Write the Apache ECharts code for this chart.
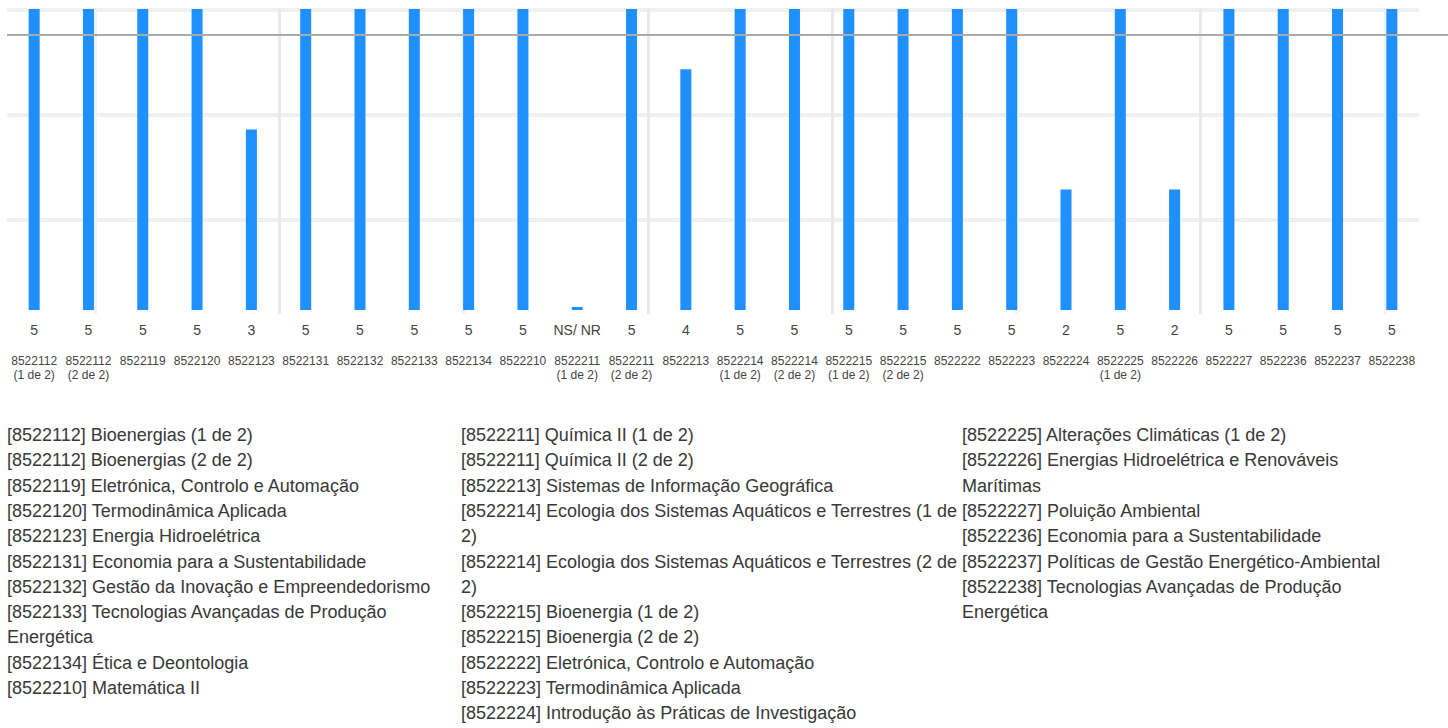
<!DOCTYPE html>
<html>
<head>
<meta charset="utf-8">
<title>Avaliação por unidade curricular</title>
<script src="https://cdn.jsdelivr.net/npm/echarts@6/dist/echarts.min.js"></script>
<style>
  html, body { margin: 0; padding: 0; background: #ffffff; }
  #chart { width: 1448px; height: 728px; }
</style>
</head>
<body>
<div id="chart"></div>
<script>
// Unit codes shown under each bar
const categories = [
  '8522112\n(1 de 2)', '8522112\n(2 de 2)', '8522119', '8522120', '8522123',
  '8522131', '8522132', '8522133', '8522134', '8522210',
  '8522211\n(1 de 2)', '8522211\n(2 de 2)', '8522213', '8522214\n(1 de 2)', '8522214\n(2 de 2)',
  '8522215\n(1 de 2)', '8522215\n(2 de 2)', '8522222', '8522223', '8522224',
  '8522225\n(1 de 2)', '8522226', '8522227', '8522236', '8522237', '8522238'
];

// Score per unit (NS/ NR drawn as a near-zero stub)
const values = [
  5, 5, 5, 5, 3,
  5, 5, 5, 5, 5,
  0.05, 5, 4, 5, 5,
  5, 5, 5, 5, 2,
  5, 2, 5, 5, 5, 5
];

// Text printed under each bar
const valueLabels = [
  '5', '5', '5', '5', '3',
  '5', '5', '5', '5', '5',
  'NS/ NR', '5', '4', '5', '5',
  '5', '5', '5', '5', '2',
  '5', '2', '5', '5', '5', '5'
];

// Reference level drawn across the chart
const referenceValue = 4.57;

// Unit names, three columns
const namesCol1 = [
  '[8522112] Bioenergias (1 de 2)',
  '[8522112] Bioenergias (2 de 2)',
  '[8522119] Eletrónica, Controlo e Automação',
  '[8522120] Termodinâmica Aplicada',
  '[8522123] Energia Hidroelétrica',
  '[8522131] Economia para a Sustentabilidade',
  '[8522132] Gestão da Inovação e Empreendedorismo',
  '[8522133] Tecnologias Avançadas de Produção',
  'Energética',
  '[8522134] Ética e Deontologia',
  '[8522210] Matemática II'
];
const namesCol2 = [
  '[8522211] Química II (1 de 2)',
  '[8522211] Química II (2 de 2)',
  '[8522213] Sistemas de Informação Geográfica',
  '[8522214] Ecologia dos Sistemas Aquáticos e Terrestres (1 de',
  '2)',
  '[8522214] Ecologia dos Sistemas Aquáticos e Terrestres (2 de',
  '2)',
  '[8522215] Bioenergia (1 de 2)',
  '[8522215] Bioenergia (2 de 2)',
  '[8522222] Eletrónica, Controlo e Automação',
  '[8522223] Termodinâmica Aplicada',
  '[8522224] Introdução às Práticas de Investigação'
];
const namesCol3 = [
  '[8522225] Alterações Climáticas (1 de 2)',
  '[8522226] Energias Hidroelétrica e Renováveis',
  'Marítimas',
  '[8522227] Poluição Ambiental',
  '[8522236] Economia para a Sustentabilidade',
  '[8522237] Políticas de Gestão Energético-Ambiental',
  '[8522238] Tecnologias Avançadas de Produção',
  'Energética'
];

const FONT = '"Liberation Sans", Arial, Helvetica, sans-serif';
const chart = echarts.init(document.getElementById('chart'), null, { renderer: 'svg' });

function namesBlock(lines, x) {
  return {
    type: 'text',
    x: x,
    y: 422.4,
    z: 10,
    style: {
      text: lines.join('\n'),
      fontFamily: FONT,
      fontSize: 18,
      lineHeight: 25.3,
      fill: '#383838',
      verticalAlign: 'top'
    }
  };
}

chart.setOption({
  animation: false,
  backgroundColor: '#ffffff',
  grid: [
    { left: 7, right: 29, top: 9, bottom: 418 },
    { left: 7, right: 29, top: 10, height: 315 },
    { left: 95, right: 63, top: 9, height: 305 }
  ],
  xAxis: [
    {
      type: 'category',
      gridIndex: 0,
      data: categories,
      axisLine: { show: false },
      axisTick: { show: false },
      splitLine: { show: false },
      axisLabel: {
        interval: 0,
        margin: 43.5,
        fontFamily: FONT,
        fontSize: 12,
        lineHeight: 14,
        color: '#444444'
      }
    },
    { type: 'value', gridIndex: 1, show: false, splitLine: { show: false } },
    {
      type: 'value', gridIndex: 2, min: 0, max: 7, interval: 1,
      axisLine: { show: false }, axisTick: { show: false }, axisLabel: { show: false },
      splitLine: {
        show: true,
        lineStyle: {
          width: 3,
          color: ['#f1f1f1', '#e9e9e9', '#f1f1f1', '#e9e9e9', '#e9e9e9', '#f1f1f1', '#e9e9e9', '#f1f1f1']
        }
      }
    }
  ],
  yAxis: [
    {
      type: 'value', gridIndex: 0, min: 0, max: 5,
      show: false, splitLine: { show: false }
    },
    {
      type: 'value', gridIndex: 1, min: 0, max: 3, interval: 1, inverse: true,
      axisLine: { show: false }, axisTick: { show: false }, axisLabel: { show: false },
      splitLine: {
        show: true,
        lineStyle: { width: 4, color: ['#f0f0f0', '#f0f0f0', '#f0f0f0', 'rgba(0,0,0,0)'] }
      }
    },
    { type: 'value', gridIndex: 2, show: false, splitLine: { show: false } }
  ],
  series: [
    {
      type: 'bar',
      xAxisIndex: 0,
      yAxisIndex: 0,
      data: values,
      barWidth: 11,
      itemStyle: { color: '#1E90FF' },
      label: {
        show: true,
        position: 'bottom',
        distance: 13,
        fontFamily: FONT,
        fontSize: 14,
        color: '#444444',
        formatter: p => valueLabels[p.dataIndex]
      }
    }
  ]
});

// Reference line spans the whole width at the level given by the value scale
const refY = chart.convertToPixel({ yAxisIndex: 0 }, referenceValue);
chart.setOption({
  graphic: [
    {
      type: 'line',
      z: 20,
      shape: { x1: 7, y1: refY, x2: 1448, y2: refY },
      style: { stroke: '#aaaaaa', lineWidth: 2 }
    },
    namesBlock(namesCol1, 7),
    namesBlock(namesCol2, 461),
    namesBlock(namesCol3, 962)
  ]
});
</script>
</body>
</html>
